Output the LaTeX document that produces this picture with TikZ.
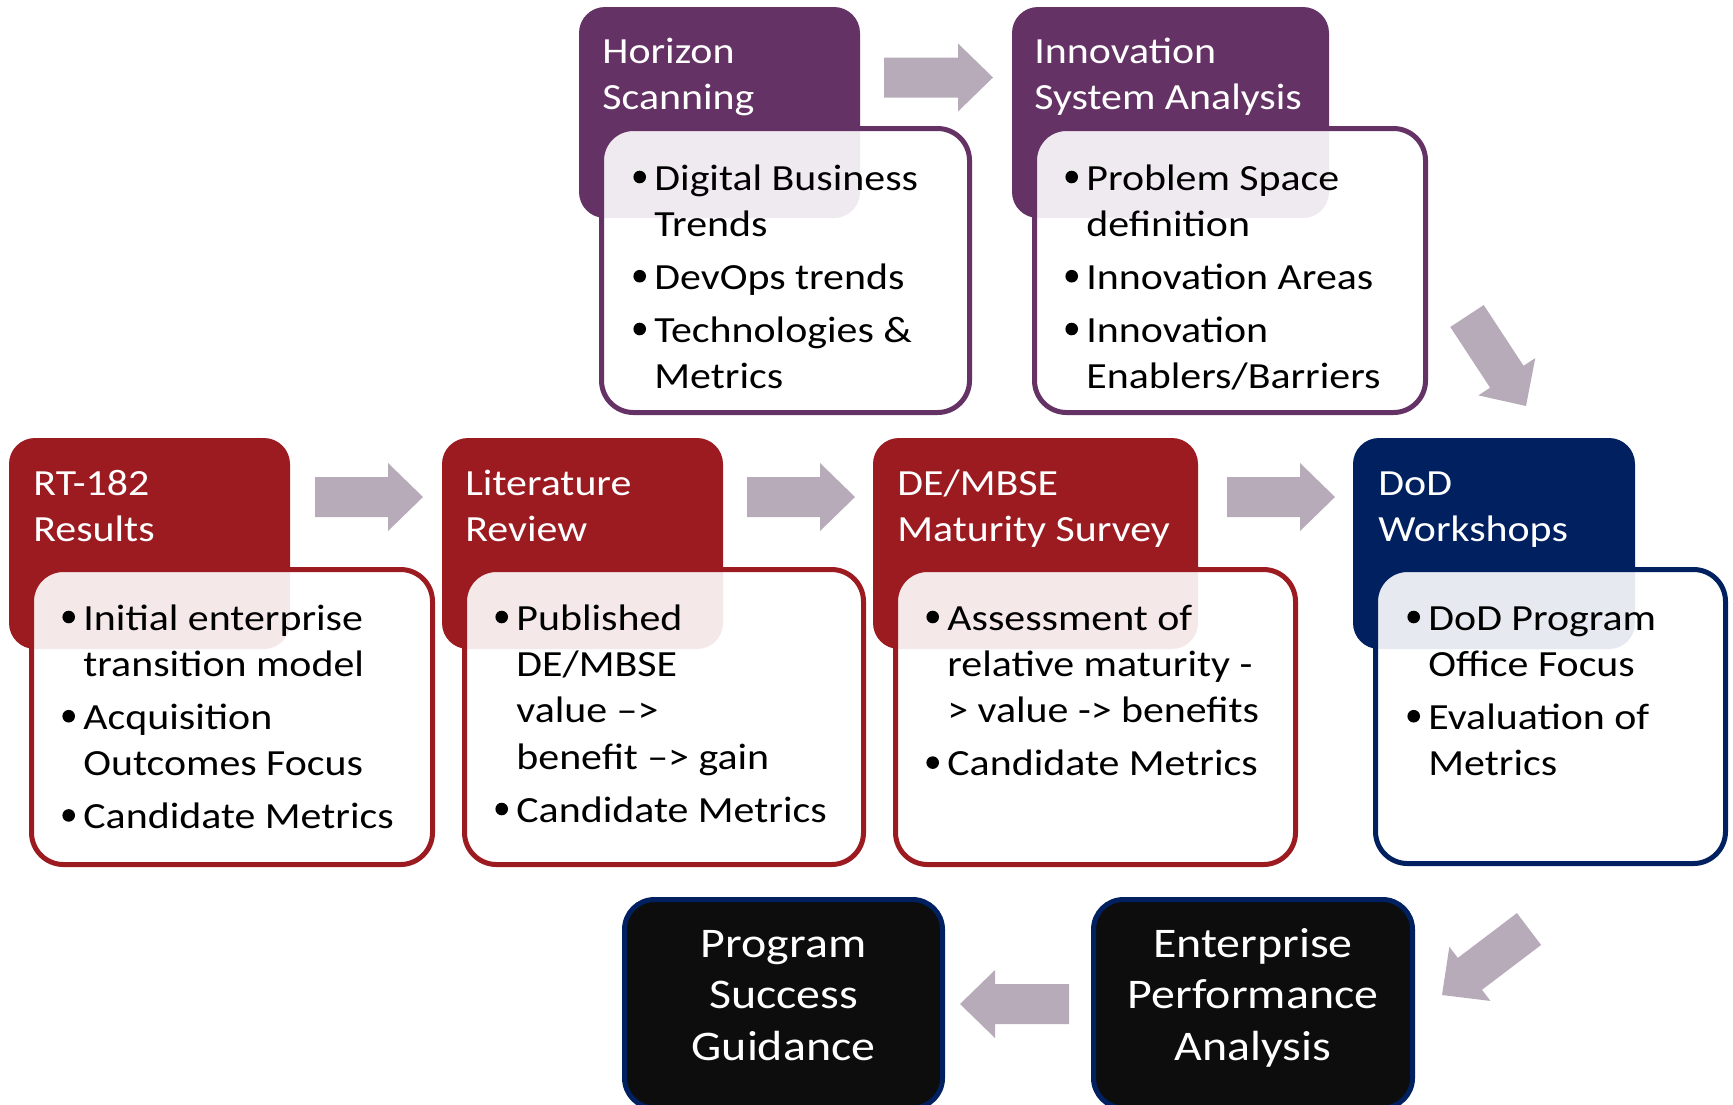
\documentclass[tikz,border=0pt]{standalone}
\usepackage{fontspec}
\setmainfont{Carlito}[FakeStretch=1.135]
\usetikzlibrary{calc,fit}

\definecolor{hsPurple}{RGB}{101,50,101}
\definecolor{hsRed}{RGB}{155,27,33}
\definecolor{hsNavy}{RGB}{0,32,96}
\definecolor{hsArrow}{RGB}{183,171,186}
\definecolor{hsBlack}{RGB}{13,13,13}

% lines of the text blocks
\newcommand\plainline[1]{\hbox{#1}}
\newcommand\ctrline[1]{\hbox to 0pt{\hss#1\hss}}
\newcommand\bulletdot{\tikz[baseline=0pt]\fill (3.2pt,6.5pt) circle (3.15pt);}
\newcommand\bulletline[1]{\hbox{\hbox to 10.5pt{\bulletdot\hss}#1}}
\newcommand\moreline[1]{\hbox{\hskip10.5pt #1}}
\newcommand\itemgap{\vskip3.2pt}

% wide block arrow from a tail coordinate to a tip coordinate
\newcommand\blockarrow[2]{%
  \coordinate (#1-#2-b) at ($(#2)!17.5pt!(#1)$);
  \fill[arrowbody]
    ($(#1)!10pt!90:(#2)$) -- ($(#1-#2-b)!10pt!90:(#2)$) --
    ($(#1-#2-b)!17pt!90:(#2)$) -- (#2) --
    ($(#1-#2-b)!17pt!-90:(#2)$) -- ($(#1-#2-b)!10pt!-90:(#2)$) --
    ($(#1)!10pt!-90:(#2)$) -- cycle;}

\tikzset{
  header/.style={fill=#1, rounded corners=13pt, inner sep=0pt},
  panel/.style={draw=#1, line width=2.5pt, fill=white, fill opacity=0.9,
    draw opacity=1, rounded corners=16pt, inner sep=0pt},
  headtext/.style={anchor=base west, inner sep=0pt, text=white,
    font=\fontsize{18.45pt}{23.2pt}\selectfont},
  bodytext/.style={anchor=base west, inner sep=0pt, text=black,
    font=\fontsize{18.45pt}{23.2pt}\selectfont},
  outcome/.style={fill=hsBlack, draw=hsNavy, line width=2.5pt,
    rounded corners=15pt, inner sep=0pt},
  outtext/.style={anchor=base, inner sep=0pt, text=white,
    font=\fontsize{21.1pt}{25.75pt}\selectfont},
  arrowbody/.style={fill=hsArrow}
}

\begin{document}
\begin{tikzpicture}[x=0.5pt,y=-0.5pt]
\useasboundingbox (0,0) rectangle (1733,1104);
\clip (0,0) rectangle (1733,1104);

% ---------- top row ----------
\node[header=hsPurple, fit={(579,7) (860,218)}] (hzHead) {};
\node[panel=hsPurple, fit={(601.5,128.5) (969.5,412.5)}] (hzBody) {};
\node[headtext] (hzTitle) at (602,63) {\vtop{\plainline{Horizon}\plainline{Scanning}}};
\node[bodytext] (hzList) at (633,190) {\vtop{%
  \bulletline{Digital Business}\moreline{Trends}\itemgap
  \bulletline{DevOps trends}\itemgap
  \bulletline{Technologies \&}\moreline{Metrics}}};

\node[header=hsPurple, fit={(1012,7) (1329,218)}] (isHead) {};
\node[panel=hsPurple, fit={(1034.5,128.5) (1425.5,412.5)}] (isBody) {};
\node[headtext] (isTitle) at (1034,63) {\vtop{\plainline{Innovation}\plainline{System Analysis}}};
\node[bodytext] (isList) at (1065,190) {\vtop{%
  \bulletline{Problem Space}\moreline{definition}\itemgap
  \bulletline{Innovation Areas}\itemgap
  \bulletline{Innovation}\moreline{Enablers/Barriers}}};

% ---------- middle row ----------
\node[header=hsRed, fit={(9,438) (290,649)}] (rtHead) {};
\node[panel=hsRed, fit={(31.5,569.5) (432.5,864.5)}] (rtBody) {};
\node[headtext] (rtTitle) at (33,495) {\vtop{\plainline{RT-182}\plainline{Results}}};
\node[bodytext] (rtList) at (62,630) {\vtop{%
  \bulletline{Initial enterprise}\moreline{transition model}\itemgap
  \bulletline{Acquisition}\moreline{Outcomes Focus}\itemgap
  \bulletline{Candidate Metrics}}};

\node[header=hsRed, fit={(442,438) (723,649)}] (lrHead) {};
\node[panel=hsRed, fit={(464.5,569.5) (863.5,864.5)}] (lrBody) {};
\node[headtext] (lrTitle) at (465,495) {\vtop{\plainline{Literature}\plainline{Review}}};
\node[bodytext] (lrList) at (495,630) {\vtop{%
  \bulletline{Published}\moreline{DE/MBSE}\moreline{value –>}\moreline{benefit –> gain}\itemgap
  \bulletline{Candidate Metrics}}};

\node[header=hsRed, fit={(873,438) (1198,649)}] (msHead) {};
\node[panel=hsRed, fit={(895.5,569.5) (1295.5,864.5)}] (msBody) {};
\node[headtext] (msTitle) at (897,495) {\vtop{\plainline{DE/MBSE}\plainline{Maturity Survey}}};
\node[bodytext] (msList) at (926,630) {\vtop{%
  \bulletline{Assessment of}\moreline{relative maturity -}\moreline{> value -> benefits}\itemgap
  \bulletline{Candidate Metrics}}};

\node[header=hsNavy, fit={(1353,438) (1635,649)}] (dwHead) {};
\node[panel=hsNavy, fit={(1375.5,569.5) (1725.5,863.5)}] (dwBody) {};
\node[headtext] (dwTitle) at (1378,495) {\vtop{\plainline{DoD}\plainline{Workshops}}};
\node[bodytext] (dwList) at (1407,630) {\vtop{%
  \bulletline{DoD Program}\moreline{Office Focus}\itemgap
  \bulletline{Evaluation of}\moreline{Metrics}}};

% ---------- bottom row ----------
\node[outcome, fit={(624.5,899.5) (942.5,1108)}] (psg) {};
\node[outtext] (psgText) at (783.5,957) {\vtop{\ctrline{Program}\ctrline{Success}\ctrline{Guidance}}};

\node[outcome, fit={(1093.5,899.5) (1412.5,1108)}] (epa) {};
\node[outtext] (epaText) at (1253,957) {\vtop{\ctrline{Enterprise}\ctrline{Performance}\ctrline{Analysis}}};

% ---------- flow arrows ----------
\coordinate (a1t) at (884,77.5);   \coordinate (a1h) at (993,77.5);
\coordinate (a2t) at (315,497);    \coordinate (a2h) at (423,497);
\coordinate (a3t) at (747,497);    \coordinate (a3h) at (855,497);
\coordinate (a4t) at (1227,497);   \coordinate (a4h) at (1335,497);
\coordinate (a5t) at (1467,316);   \coordinate (a5h) at (1526,406);
\coordinate (a6t) at (1529,929);   \coordinate (a6h) at (1442,995);
\coordinate (a7t) at (1069,1004);  \coordinate (a7h) at (960,1004);
\blockarrow{a1t}{a1h}
\blockarrow{a2t}{a2h}
\blockarrow{a3t}{a3h}
\blockarrow{a4t}{a4h}
\blockarrow{a5t}{a5h}
\blockarrow{a6t}{a6h}
\blockarrow{a7t}{a7h}
\end{tikzpicture}
\end{document}
